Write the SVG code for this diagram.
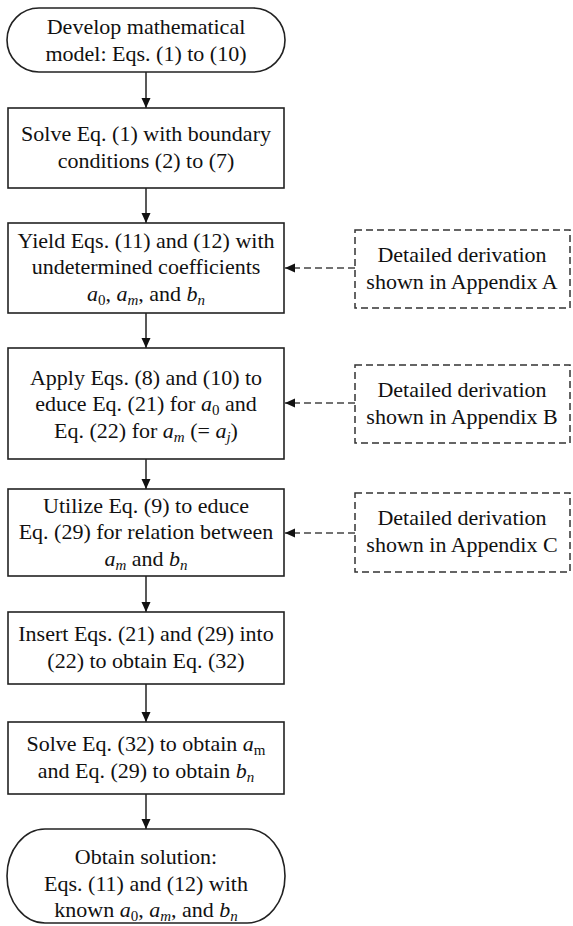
<svg xmlns="http://www.w3.org/2000/svg" width="573" height="926" viewBox="0 0 573 926">
<style>
text{font-family:"Liberation Serif","Times New Roman",serif;font-size:22px;fill:#111;text-anchor:middle}
.box{fill:#fff;stroke:#222;stroke-width:1.6}
.dash{fill:#fff;stroke:#333;stroke-width:1.5;stroke-dasharray:7,4}
.c{stroke:#222;stroke-width:1.5;fill:none}
.cd{stroke:#444;stroke-width:1.5;fill:none;stroke-dasharray:7,4}
.i{font-style:italic}
.s{font-size:15px}
</style>
<defs>
<marker id="ah" markerWidth="10" markerHeight="10" refX="10" refY="5" orient="auto" markerUnits="userSpaceOnUse">
<path d="M0,0.5 L10,5 L0,9.5 Z" fill="#111"/>
</marker>
</defs>
<rect width="573" height="926" fill="#fff"/>
<g id="connectors">
<line class="c" x1="146" y1="72" x2="146" y2="108" marker-end="url(#ah)"/>
<line class="c" x1="146" y1="188" x2="146" y2="223" marker-end="url(#ah)"/>
<line class="c" x1="146" y1="313" x2="146" y2="348" marker-end="url(#ah)"/>
<line class="c" x1="146" y1="459" x2="146" y2="489" marker-end="url(#ah)"/>
<line class="c" x1="146" y1="576" x2="146" y2="612" marker-end="url(#ah)"/>
<line class="c" x1="146" y1="684" x2="146" y2="722" marker-end="url(#ah)"/>
<line class="c" x1="146" y1="794" x2="146" y2="829" marker-end="url(#ah)"/>
<line class="cd" x1="355" y1="268" x2="285" y2="268" marker-end="url(#ah)"/>
<line class="cd" x1="355" y1="403" x2="285" y2="403" marker-end="url(#ah)"/>
<line class="cd" x1="355" y1="533" x2="285" y2="533" marker-end="url(#ah)"/>
</g>
<g id="start">
<rect class="box" x="7" y="8" width="278" height="64" rx="32" ry="32"/>
<text x="146" y="34">Develop mathematical</text>
<text x="146" y="61">model: Eqs. (1) to (10)</text>
</g>
<g id="solve1">
<rect class="box" x="8" y="108" width="276" height="80"/>
<text x="146" y="141">Solve Eq. (1) with boundary</text>
<text x="146" y="168">conditions (2) to (7)</text>
</g>
<g id="yield">
<rect class="box" x="8" y="223" width="276" height="90"/>
<text x="146" y="248">Yield Eqs. (11) and (12) with</text>
<text x="146" y="274">undetermined coefficients</text>
<text x="146" y="301"><tspan class="i">a</tspan><tspan class="s" dy="4">0</tspan><tspan dy="-4">, </tspan><tspan class="i">a</tspan><tspan class="i s" dy="4">m</tspan><tspan dy="-4">, and </tspan><tspan class="i">b</tspan><tspan class="i s" dy="4">n</tspan></text>
</g>
<g id="apply">
<rect class="box" x="8" y="348" width="276" height="111"/>
<text x="146" y="385">Apply Eqs. (8) and (10) to</text>
<text x="146" y="411">educe Eq. (21) for <tspan class="i">a</tspan><tspan class="s" dy="4">0</tspan><tspan dy="-4"> and</tspan></text>
<text x="146" y="438">Eq. (22) for <tspan class="i">a</tspan><tspan class="i s" dy="4">m</tspan><tspan dy="-4"> (= </tspan><tspan class="i">a</tspan><tspan class="i s" dy="4">j</tspan><tspan dy="-4">)</tspan></text>
</g>
<g id="utilize">
<rect class="box" x="8" y="489" width="276" height="87"/>
<text x="146" y="513">Utilize Eq. (9) to educe</text>
<text x="146" y="539">Eq. (29) for relation between</text>
<text x="146" y="566"><tspan class="i">a</tspan><tspan class="i s" dy="4">m</tspan><tspan dy="-4"> and </tspan><tspan class="i">b</tspan><tspan class="i s" dy="4">n</tspan></text>
</g>
<g id="insert">
<rect class="box" x="8" y="612" width="276" height="72"/>
<text x="146" y="641">Insert Eqs. (21) and (29) into</text>
<text x="146" y="668">(22) to obtain Eq. (32)</text>
</g>
<g id="solve2">
<rect class="box" x="8" y="722" width="276" height="72"/>
<text x="146" y="751">Solve Eq. (32) to obtain <tspan class="i">a</tspan><tspan class="s" dy="4">m</tspan></text>
<text x="146" y="778">and Eq. (29) to obtain <tspan class="i">b</tspan><tspan class="i s" dy="4">n</tspan></text>
</g>
<g id="end">
<rect class="box" x="7" y="829" width="278" height="94" rx="38" ry="47"/>
<text x="146" y="864">Obtain solution:</text>
<text x="146" y="891">Eqs. (11) and (12) with</text>
<text x="146" y="917">known <tspan class="i">a</tspan><tspan class="s" dy="4">0</tspan><tspan dy="-4">, </tspan><tspan class="i">a</tspan><tspan class="i s" dy="4">m</tspan><tspan dy="-4">, and </tspan><tspan class="i">b</tspan><tspan class="i s" dy="4">n</tspan></text>
</g>
<g id="appA">
<rect class="dash" x="355" y="230" width="215" height="78"/>
<text x="462" y="262">Detailed derivation</text>
<text x="462" y="289">shown in Appendix A</text>
</g>
<g id="appB">
<rect class="dash" x="355" y="365" width="215" height="78"/>
<text x="462" y="397">Detailed derivation</text>
<text x="462" y="424">shown in Appendix B</text>
</g>
<g id="appC">
<rect class="dash" x="355" y="493" width="215" height="79"/>
<text x="462" y="525">Detailed derivation</text>
<text x="462" y="552">shown in Appendix C</text>
</g>
</svg>
